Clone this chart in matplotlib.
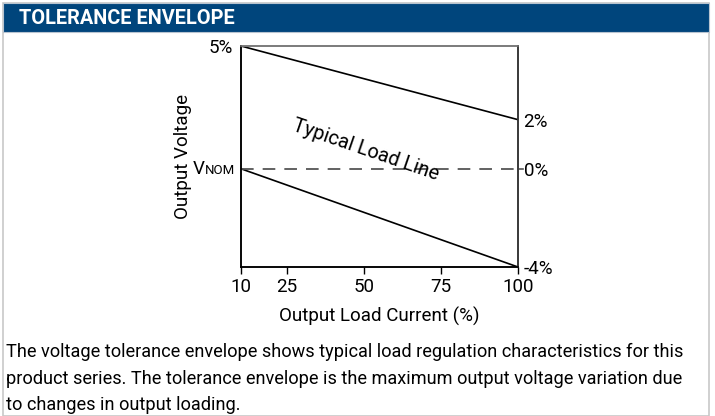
import matplotlib
matplotlib.use("Agg")
import matplotlib.pyplot as plt
from matplotlib import font_manager
from matplotlib.patches import Rectangle

names = {f.name for f in font_manager.fontManager.ttflist}
COND = "Liberation Sans Narrow" if "Liberation Sans Narrow" in names else "Roboto"

# ---- data ----
load_ticks = [10, 25, 50, 75, 100]
load_x = [10, 100]
upper_limit = [5, 2]
lower_limit = [0, -4]
nominal = [0, 0]
right_ticks = [2, 0, -4]
right_labels = ["2%", "0%", "-4%"]

title = "TOLERANCE ENVELOPE"
caption = ["The voltage tolerance envelope shows typical load regulation characteristics for this",
           "product series. The tolerance envelope is the maximum output voltage variation due",
           "to changes in output loading."]

W, H = 715, 416
fig = plt.figure(figsize=(W / 100, H / 100), dpi=100)

def fx(px): return px / W
def fy(py): return 1 - py / H

# panel border and header
fig.patches.append(Rectangle((fx(3), fy(416)), fx(706), 413 / H, transform=fig.transFigure,
                             facecolor="white", edgecolor="#c8c8c8", lw=1.2, zorder=-10))
fig.patches.append(Rectangle((fx(3), fy(32)), fx(706), 29 / H, transform=fig.transFigure,
                             facecolor="#00457c", edgecolor="#b8c4d0", lw=0.8, zorder=-9))
fig.text(fx(19), fy(18), title, color="white", fontsize=14.3, fontweight="bold",
         family=COND, va="center", ha="left")

ax = fig.add_axes([fx(241), fy(267), fx(518) - fx(241), fy(46) - fy(267)])
ax.set_facecolor("none")
ax.plot(load_x, upper_limit, color="black", lw=1.2)
ax.plot(load_x, lower_limit, color="black", lw=1.2)
ax.plot(load_x, nominal, color="#555555", lw=1.3, dashes=(7, 5))
ax.set_xlim(10, 100)
ax.set_ylim(-4, 5)

ax.set_xticks(load_ticks)
ax.set_xticklabels([str(v) for v in load_ticks], family=COND, fontsize=13.5)
ax.tick_params(axis="x", length=5, width=1, pad=3)
ax.set_yticks([5, 0])
ax.set_yticklabels(["5%", ""], family=COND, fontsize=13.5)
ax.tick_params(axis="y", length=0, pad=6)

# VNOM label
ax.annotate("NOM", xy=(0, 0), xycoords=ax.get_yaxis_transform(), xytext=(-4, -4),
            textcoords="offset points", family=COND, fontsize=9.5, ha="right", va="baseline")
ax.annotate("V", xy=(0, 0), xycoords=ax.get_yaxis_transform(), xytext=(-26, -4),
            textcoords="offset points", family=COND, fontsize=13.5, ha="right", va="baseline")

ax2 = ax.twinx()
ax2.set_facecolor("none")
ax2.set_ylim(-4, 5)
ax2.set_yticks(right_ticks)
ax2.set_yticklabels(right_labels, family=COND, fontsize=13.5)
ax2.tick_params(axis="y", length=0, pad=4)
ax2.plot([1.0, 1.018], [0, 0], transform=ax2.get_yaxis_transform(), color="#555555",
         lw=1.2, clip_on=False)

for a in (ax, ax2):
    a.spines["left"].set_color("black")
    a.spines["bottom"].set_color("black")
    a.spines["top"].set_color("#777777")
    a.spines["right"].set_color("#333333")
    for s in a.spines.values():
        s.set_linewidth(1.1)

ax.set_ylabel("Output Voltage", family=COND, fontsize=13.5, labelpad=12)
ax.set_xlabel("Output Load Current (%)", family=COND, fontsize=13.5, labelpad=8)

ax.text(50.5, 0.75, "Typical Load Line", family=COND, fontsize=14.3, rotation=-19,
        rotation_mode="anchor", ha="center", va="center")

for i, line in enumerate(caption):
    fig.text(fx(6), fy(357 + 26.5 * i), line, family=COND, fontsize=13.1,
             ha="left", va="baseline")

fig.savefig("out.png", dpi=100)
